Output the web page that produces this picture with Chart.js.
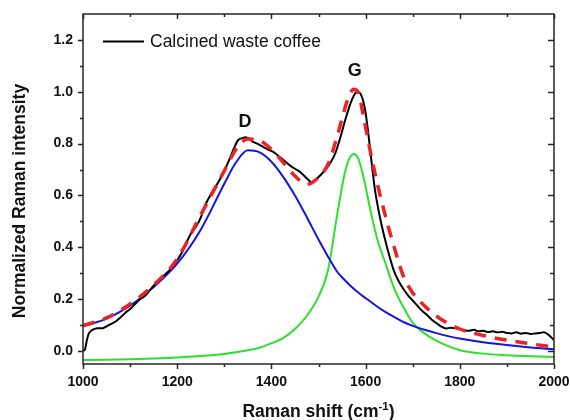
<!DOCTYPE html>
<html>
<head>
<meta charset="utf-8">
<script src="https://cdn.jsdelivr.net/npm/chart.js@4.4.1/dist/chart.umd.min.js"></script>
<style>
  html, body { margin: 0; padding: 0; background: #fff; }
  canvas { display: block; }
</style>
</head>
<body>
<canvas id="raman" width="570" height="420"></canvas>
<script>
// fitted curves share one shift grid (cm-1)
const fitShift = [1000, 1050, 1100, 1150, 1200, 1250, 1300, 1325, 1350, 1375, 1400, 1425, 1450, 1475, 1500, 1520,
    1540, 1555, 1565, 1575, 1585, 1595, 1610, 1625, 1640, 1660, 1680, 1700, 1725, 1750, 1800, 1850, 1900, 1950, 2000];

const bandD = [0.095, 0.125, 0.175, 0.247, 0.337, 0.468, 0.645, 0.728, 0.774, 0.766, 0.730, 0.672, 0.600, 0.517, 0.430, 0.365,
    0.305, 0.275, 0.257, 0.240, 0.225, 0.211, 0.191, 0.171, 0.153, 0.132, 0.112, 0.097, 0.082, 0.069, 0.048, 0.034, 0.023, 0.014, 0.007];

const bandG = [-0.035, -0.034, -0.032, -0.029, -0.025, -0.019, -0.011, -0.005, 0.003, 0.013, 0.030, 0.050, 0.085, 0.135, 0.210, 0.310,
    0.530, 0.680, 0.740, 0.760, 0.740, 0.675, 0.545, 0.430, 0.350, 0.245, 0.170, 0.110, 0.068, 0.040, 0.003, -0.010, -0.016, -0.020, -0.023];

const fitSum = [0.098, 0.128, 0.182, 0.255, 0.355, 0.525, 0.695, 0.778, 0.818, 0.812, 0.778, 0.728, 0.675, 0.643, 0.670, 0.720,
    0.830, 0.930, 0.985, 1.010, 0.995, 0.910, 0.770, 0.645, 0.535, 0.405, 0.290, 0.225, 0.175, 0.135, 0.085, 0.060, 0.042, 0.028, 0.015];

// measured spectrum
const rawShift = [1000, 1004, 1008, 1013, 1020, 1030, 1042, 1050, 1060, 1070, 1080, 1090, 1100, 1110, 1120, 1130, 1140, 1150,
    1160, 1170, 1180, 1190, 1200, 1210, 1220, 1230, 1240, 1250, 1260, 1270, 1280, 1290, 1300, 1310, 1320, 1330, 1340, 1345,
    1352, 1360, 1370, 1380, 1390, 1400, 1410, 1420, 1430, 1440, 1450, 1460, 1470, 1480, 1487, 1495, 1505, 1515, 1525, 1535,
    1545, 1555, 1565, 1575, 1582, 1590, 1598, 1605, 1612, 1620, 1630, 1640, 1650, 1660, 1670, 1680, 1690, 1700, 1710, 1720,
    1730, 1740, 1750, 1760, 1770, 1780, 1790, 1800, 1810, 1820, 1830, 1840, 1850, 1860, 1870, 1880, 1890, 1900, 1910, 1920,
    1930, 1940, 1950, 1960, 1970, 1980, 1990, 2000];

const rawIntensity = [0.000, 0.005, 0.040, 0.070, 0.082, 0.088, 0.088, 0.095, 0.105, 0.115, 0.130, 0.148, 0.162, 0.180, 0.198, 0.210, 0.230, 0.252,
    0.270, 0.288, 0.305, 0.325, 0.350, 0.380, 0.420, 0.455, 0.480, 0.515, 0.565, 0.600, 0.630, 0.660, 0.695, 0.735, 0.780, 0.815, 0.822, 0.825,
    0.820, 0.808, 0.800, 0.790, 0.780, 0.772, 0.760, 0.745, 0.730, 0.715, 0.703, 0.692, 0.675, 0.658, 0.650, 0.662, 0.680, 0.700, 0.725, 0.760,
    0.815, 0.880, 0.940, 0.985, 1.000, 0.990, 0.940, 0.850, 0.740, 0.620, 0.520, 0.440, 0.370, 0.310, 0.270, 0.240, 0.215, 0.195, 0.175, 0.155,
    0.140, 0.122, 0.108, 0.095, 0.087, 0.090, 0.088, 0.085, 0.080, 0.078, 0.082, 0.076, 0.078, 0.073, 0.076, 0.072, 0.074, 0.070, 0.068, 0.072,
    0.067, 0.070, 0.066, 0.068, 0.070, 0.072, 0.060, 0.042];

// axes
const xMajor = [1000, 1200, 1400, 1600, 1800, 2000];
const xMinor = [1100, 1300, 1500, 1700, 1900];
const yMajor = [0.0, 0.2, 0.4, 0.6, 0.8, 1.0, 1.2];
const yMinor = [0.1, 0.3, 0.5, 0.7, 0.9, 1.1];

const FONT = "'Liberation Sans', Arial, sans-serif";

function pts(xs, ys) {
    return xs.map((x, i) => ({x: x, y: ys[i]}));
}

const framePlugin = {
    id: 'frame',
    afterDatasetsDraw(chart) {
        const ctx = chart.ctx;
        const a = chart.chartArea;
        const x = chart.scales.x, y = chart.scales.y;
        ctx.save();

        ctx.strokeStyle = '#262626';
        ctx.lineWidth = 1.5;
        ctx.strokeRect(a.left, a.top, a.right - a.left, a.bottom - a.top);

        ctx.beginPath();
        const xt = (v, len) => {
            const p = Math.round(x.getPixelForValue(v)) + 0.5;
            ctx.moveTo(p, a.bottom); ctx.lineTo(p, a.bottom + len);   // outward
            ctx.moveTo(p, a.top); ctx.lineTo(p, a.top + len);         // inward
        };
        const yt = (v, len) => {
            const p = Math.round(y.getPixelForValue(v)) + 0.5;
            ctx.moveTo(a.left, p); ctx.lineTo(a.left - len, p);       // outward
            ctx.moveTo(a.right, p); ctx.lineTo(a.right - len - 1, p); // inward
        };
        xMajor.forEach(v => xt(v, 5));
        xMinor.forEach(v => xt(v, 3));
        yMajor.forEach(v => yt(v, 5));
        yMinor.forEach(v => yt(v, 3));
        ctx.stroke();

        // legend
        ctx.strokeStyle = '#000';
        ctx.lineWidth = 2.2;
        ctx.beginPath();
        ctx.moveTo(103, 41.5); ctx.lineTo(144, 41.5);
        ctx.stroke();
        ctx.fillStyle = '#111';
        ctx.font = '17.5px ' + FONT;
        ctx.textAlign = 'left';
        ctx.textBaseline = 'middle';
        ctx.fillText('Calcined waste coffee', 150, 42);

        // band labels
        ctx.font = 'bold 18px ' + FONT;
        ctx.textAlign = 'center';
        ctx.fillText('D', x.getPixelForValue(1344), y.getPixelForValue(0.885));
        ctx.fillText('G', x.getPixelForValue(1577), y.getPixelForValue(1.08));

        // axis titles
        const big = 'bold 17.5px ' + FONT, small = 'bold 11.5px ' + FONT;
        ctx.textBaseline = 'alphabetic';
        const main = 'Raman shift (cm', sup = '-1', tail = ')';
        ctx.font = big;
        const wMain = ctx.measureText(main).width;
        const wTail = ctx.measureText(tail).width;
        ctx.font = small;
        const wSup = ctx.measureText(sup).width;
        const cx = (a.left + a.right) / 2;
        const sx = cx - (wMain + wSup + wTail) / 2;
        const by = 417;
        ctx.textAlign = 'left';
        ctx.font = big;
        ctx.fillText(main, sx, by);
        ctx.font = small;
        ctx.fillText(sup, sx + wMain, by - 7.5);
        ctx.font = big;
        ctx.fillText(tail, sx + wMain + wSup, by);

        ctx.translate(20, 201);
        ctx.rotate(-Math.PI / 2);
        ctx.textAlign = 'center';
        ctx.textBaseline = 'middle';
        ctx.fillText('Normalized Raman intensity', 0, 0);

        ctx.restore();
    }
};

new Chart(document.getElementById('raman'), {
    type: 'line',
    data: {
        datasets: [
            {
                label: 'Cumulative fit',
                data: pts(fitShift, fitSum),
                borderColor: '#ee2222',
                borderWidth: 3.5,
                borderDash: [12, 9],
                cubicInterpolationMode: 'monotone',
                pointRadius: 0,
                fill: false,
                order: 0
            },
            {
                label: 'Calcined waste coffee',
                data: pts(rawShift, rawIntensity),
                borderColor: '#000000',
                borderWidth: 2,
                tension: 0.3,
                pointRadius: 0,
                fill: false,
                order: 1
            },
            {
                label: 'D band',
                data: pts(fitShift, bandD),
                borderColor: '#1414e6',
                borderWidth: 2,
                cubicInterpolationMode: 'monotone',
                pointRadius: 0,
                fill: false,
                order: 2
            },
            {
                label: 'G band',
                data: pts(fitShift, bandG),
                borderColor: '#2ee02e',
                borderWidth: 2,
                cubicInterpolationMode: 'monotone',
                pointRadius: 0,
                fill: false,
                order: 3
            }
        ]
    },
    options: {
        responsive: false,
        animation: false,
        layout: { padding: { top: 14, right: 16, left: 0, bottom: 0 } },
        plugins: {
            legend: { display: false },
            tooltip: { enabled: false }
        },
        scales: {
            x: {
                type: 'linear',
                min: 1000,
                max: 2000,
                grid: { display: false, drawTicks: false },
                border: { display: false },
                ticks: {
                    stepSize: 200,
                    padding: 10,
                    color: '#111',
                    font: { family: FONT, size: 14, weight: 'bold' },
                    callback: v => v
                },
                afterFit: s => {
                    s.height = 56;
                    s.paddingLeft = 0;
                    s.paddingRight = 0;
                }
            },
            y: {
                min: -0.05,
                max: 1.3,
                grid: { display: false, drawTicks: false },
                border: { display: false },
                ticks: {
                    stepSize: 0.2,
                    includeBounds: false,
                    padding: 10,
                    color: '#111',
                    font: { family: FONT, size: 14, weight: 'bold' },
                    callback: v => v.toFixed(1)
                },
                afterFit: s => {
                    s.width = 83;
                    s.paddingTop = 0;
                    s.paddingBottom = 0;
                }
            }
        }
    },
    plugins: [framePlugin]
});
</script>
</body>
</html>
